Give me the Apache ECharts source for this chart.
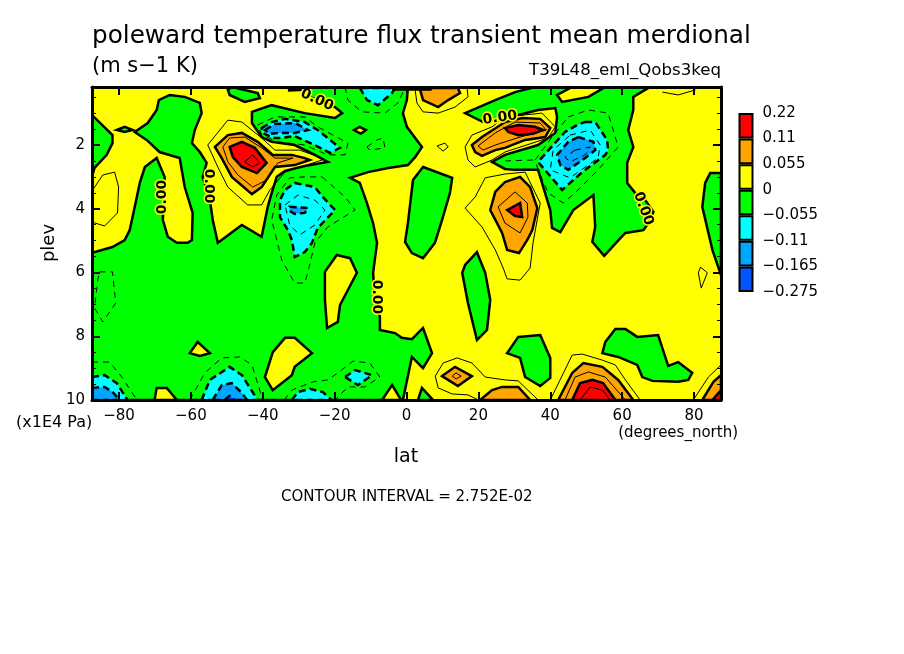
<!DOCTYPE html>
<html lang="en">
<head>
    <meta charset="UTF-8">
    <title>poleward temperature flux</title>
    <script src="https://cdn.jsdelivr.net/npm/echarts@6/dist/echarts.min.js"></script>
    <style>
        html, body { margin: 0; padding: 0; background: #fff; }
    </style>
</head>
<body>
<div id="main" style="width: 904px; height: 654px;"></div>
<script>
    // tick labels
    var latTicks = [-80, -60, -40, -20, 0, 20, 40, 60, 80];
    var plevTicks = [2, 4, 6, 8, 10];
    var plevMinorTicks = [0.5, 1, 1.5, 2.5, 3, 3.5, 4.5, 5, 5.5, 6.5, 7, 7.5, 8.5, 9, 9.5];

    // colour key, bottom to top
    var keyColours = ['#0055ff', '#00a5ff', '#00ffff', '#00ff00', '#ffff00', '#ffa500', '#ff0000'];
    var keyLabels = ['-0.275', '-0.165', '-0.11', '-0.055', '0', '0.055', '0.11', '0.22'];

    // filled contour areas, every vertex is [lat, plev]
    var greenAreas = [
        [[-87.5,5.38],[-81.8,5.2],[-78.4,4.98],[-77,4.67],[-75.6,3.94],[-74.2,3.19],[-72.8,2.69],[-69.5,2.41],[-67.3,3],[-67.8,4.35],[-66.4,4.88],[-63.9,5.07],[-60.9,5.07],[-59.7,4.98],[-59.5,4.13],[-61.7,3.32],[-63.1,2.41],[-68.7,2.22],[-72.3,1.84],[-75.6,1.59],[-72,1.31],[-69.5,0.9],[-68.9,0.59],[-65.9,0.43],[-61.7,0.49],[-57.5,0.68],[-57,1],[-58.9,1.53],[-59.7,1.94],[-57.5,2.22],[-55.6,2.56],[-56.7,3],[-54.7,3.73],[-53.9,4.35],[-52.5,5.07],[-45.8,4.51],[-40.3,4.88],[-38.6,3.94],[-37.5,3.5],[-36.1,3],[-33.8,2.81],[-28.3,2.66],[-21.9,2.53],[-25.5,2.31],[-31.1,2],[-37.5,1.9],[-40.3,1.75],[-43,1.31],[-43,0.96],[-37.5,0.75],[-28.3,1],[-19.9,1.15],[-17.9,1],[-19.9,0.81],[-24.7,0.59],[-28.3,0.43],[-29.7,0.18],[0.4,0.18],[0.1,0.59],[-1,1],[0.1,1.43],[4.3,2.06],[2.4,2.38],[0.4,2.63],[-5.1,2.72],[-10.7,2.85],[-15.7,3.03],[-13,3.19],[-11,3.82],[-9.3,4.45],[-8.2,5.07],[-9.3,6.01],[-8.8,6.7],[-7.4,7.39],[-7.4,7.8],[-3.2,7.9],[-1.3,8.05],[1.5,8.09],[4.6,7.74],[7.1,8.53],[4.6,9],[1.5,8.65],[-1,10],[-87.5,10]],
        [[16.3,1],[24.7,0.59],[30.2,0.34],[35.8,0.18],[67.8,0.18],[66.4,0.27],[63.1,0.49],[63.1,0.9],[61.7,1.53],[63.1,2.06],[61.4,2.56],[61.4,3.19],[63.6,3.5],[66.4,3.73],[68.7,4.1],[67.3,4.45],[65.9,4.67],[60.9,4.76],[59.5,4.92],[55,5.48],[51.7,5.04],[52.5,4.57],[52,3.57],[46.4,4.04],[42.8,4.73],[40.5,4.6],[40,4.04],[37.7,3.19],[36.6,2.78],[30.2,2.78],[27.4,2.75],[23.8,2.53],[27.4,2.31],[36.6,2],[41.4,1.62],[41.9,1.12],[41.4,0.84],[36.6,0.9],[31.1,1.06],[27.4,1.15],[21.3,1.28]],
        [[-87.5,1.06],[-81.8,1.69],[-81.8,1.94],[-83.4,2.31],[-86.8,2.72],[-87.5,3]],
        [[-80.6,1.53],[-78.4,1.43],[-76.2,1.53],[-78.4,1.59]],
        [[-49.7,0.27],[-49.2,0.43],[-45,0.65],[-40.8,0.53],[-41.4,0.37],[-48.6,0.18]],
        [[4.6,2.69],[12.7,3.03],[12.1,3.5],[9.9,4.35],[7.9,5.07],[4.6,5.55],[1.5,5.39],[-0.4,5.04],[0.4,4.45],[1.8,3.1]],
        [[19.6,5.36],[21.9,6.01],[23.3,6.86],[22.4,7.8],[19.6,8.12],[17.1,6.96],[15.5,6.01],[16.3,5.76]],
        [[31.1,8.02],[37.2,7.96],[40,8.68],[40,9.31],[37.2,9.56],[33,9.28],[31.6,8.68],[28,8.53]],
        [[58.1,7.77],[60.9,7.77],[64.2,8.02],[70,7.96],[72.8,8.93],[75.6,8.81],[79.5,9.15],[78.4,9.37],[75.6,9.43],[68.4,9.4],[65.6,9.28],[64.2,8.9],[58.9,8.65],[54.5,8.53],[55.3,8.18]],
        [[87.5,2.88],[84.5,2.88],[83.1,3.19],[82.3,3.94],[84,4.76],[85.1,5.29],[87.5,6.08]],
        [[3.2,10],[4.3,9.62],[7.4,10]]
    ];
    var yellowIslands = [
        [[41.9,0.43],[43.3,0.65],[50.6,0.49],[55.3,0.18],[46.1,0.18]],
        [[-19.4,5.45],[-15.7,5.55],[-13.8,6.01],[-18.5,7.02],[-19.1,7.55],[-22.1,7.74],[-22.7,6.86],[-22.7,5.98]],
        [[-6.8,10],[-4,9.53],[-1.5,10]],
        [[-70.1,10],[-69.5,9.62],[-66.7,9.62],[-63.9,10]],
        [[-60.3,8.53],[-58.1,8.18],[-54.7,8.53],[-57.5,8.62]],
        [[-33.8,8.05],[-31.1,8.05],[-26.3,8.53],[-31.1,8.96],[-31.9,9.22],[-37.2,9.69],[-39.4,9.28],[-37.2,8.5]],
        [[-14.6,1.53],[-13,1.43],[-11.3,1.53],[-12.7,1.65]]
    ];
    var orangeAreas = [
        [[-53.3,2.06],[-49.7,1.69],[-45.8,1.62],[-41.4,1.9],[-37.2,2.31],[-31.9,2.31],[-28.3,2.41],[-26.9,2.47],[-31.1,2.63],[-33.8,2.66],[-36.6,2.69],[-40.3,3.32],[-43,3.54],[-48.6,3],[-51.4,2.41]],
        [[18.2,2],[21,1.75],[27.4,1.28],[32.2,1.15],[37.2,1.18],[40,1.47],[38.6,1.75],[33,1.84],[27.4,2.09],[24.7,2.16],[21,2.34],[19.1,2.22]],
        [[24.7,3.47],[27.4,3.16],[31.6,3],[34.4,3.32],[36.4,3.98],[35,4.67],[33.6,4.98],[31.3,5.39],[28,5.29],[26.6,4.76],[23.3,4.04]],
        [[9.9,9.25],[13.5,8.96],[18.2,9.25],[14.3,9.56]],
        [[3.8,0.27],[4.6,0.59],[8.8,0.81],[11.6,0.59],[14.9,0.37],[14.3,0.21],[3.8,0.21]],
        [[42.2,10],[46.1,9.15],[49.2,8.84],[54.5,8.96],[58.9,9.37],[63.1,10]],
        [[20.5,10],[23.8,9.69],[26.6,9.59],[31.1,9.59],[34.4,10]],
        [[82.3,10],[85.4,9.43],[87.5,9.22],[87.5,10]]
    ];
    var redAreas = [
        [[-49.2,2.06],[-45.8,1.9],[-42.2,2.09],[-38.9,2.56],[-41.6,2.88],[-45.8,2.69],[-48.3,2.38]],
        [[27.4,1.47],[31.1,1.37],[35.8,1.43],[38,1.53],[35.2,1.65],[31.1,1.69],[28.3,1.59]],
        [[28,4.04],[31.6,3.82],[32.2,4.26],[30.2,4.23]],
        [[46.1,10],[48.3,9.47],[51.7,9.37],[54.7,9.47],[58.1,10]],
        [[85.1,10],[87.5,9.69],[87.5,10]]
    ];
    var cyanAreas = [
        [[-40.3,1.47],[-37.5,1.28],[-33.8,1.18],[-28.3,1.28],[-24.7,1.53],[-21.3,1.84],[-18.5,2.09],[-21.3,2.25],[-25.5,2],[-31.1,1.72],[-34.7,1.78],[-37.2,1.78],[-40,1.62]],
        [[-31.1,3.19],[-25.5,3.32],[-23.3,3.63],[-19.9,4.04],[-24.7,4.6],[-26.3,5.07],[-28.3,5.36],[-31.1,5.51],[-31.9,4.98],[-33,4.67],[-35.2,4.26],[-35.2,3.73],[-33.8,3.41]],
        [[49.7,1.28],[52.5,1.28],[55.8,1.84],[56.1,2.16],[55.3,2.31],[48.9,2.85],[43.3,3.41],[36.6,2.53],[40.8,2],[44.1,1.59],[47.5,1.37]],
        [[-87.5,9.28],[-84,9.22],[-80.6,9.47],[-77.6,10],[-87.5,10]],
        [[-57,10],[-54.7,9.37],[-49.2,8.96],[-45.8,9.22],[-41.4,10]],
        [[-31.9,10],[-30.2,9.75],[-26.9,9.65],[-23.3,9.75],[-20.8,10]],
        [[-17.1,9.28],[-14.3,9.06],[-9.6,9.22],[-13.5,9.53]],
        [[-13,0.21],[-11,0.59],[-7.9,0.75],[-4,0.37],[-3.2,0.21]]
    ];
    var blueAreas = [
        [[-39.4,1.53],[-36.6,1.34],[-31.1,1.31],[-27.4,1.53],[-31.1,1.62],[-35.2,1.62],[-38,1.65]],
        [[-32.5,3.94],[-27.4,3.98],[-28.3,4.13],[-31.1,4.16],[-32.5,4.07]],
        [[47.8,1.75],[52,1.9],[52.5,2.16],[49.7,2.41],[45,2.78],[42.8,2.63],[41.9,2.31],[45,1.9]],
        [[-87.5,9.62],[-84,9.59],[-81.8,9.75],[-79.8,10],[-87.5,10]],
        [[-53.9,10],[-51.4,9.53],[-48.6,9.47],[-45.8,9.78],[-44.4,10]]
    ];
    var deepBlueAreas = [
        [[-50.6,10],[-49.2,9.87],[-47.8,10]]
    ];

    // contours between the coloured bands
    var solidLines = [
        [[-87.5,4.42],[-84,4.54],[-80.4,4.13],[-80.1,3.32],[-81.2,2.85],[-84.5,2.94],[-87.3,3.41],[-87.5,3.73]],
        [[-55.3,2],[-49.7,1.22],[-45.8,1.28],[-40.3,1.78],[-36.6,2.16],[-29.7,2.16],[-23.5,2.41],[-23.5,2.47],[-33.8,2.85],[-38,3.41],[-40.3,3.88],[-44.2,3.88],[-49.7,3.32],[-52.5,2.69],[-55.3,2]],
        [[-51.1,2.06],[-49.2,1.78],[-45,1.75],[-40.3,2.09],[-36.6,2.41],[-31.6,2.41],[-35.8,2.56],[-38.9,3.1],[-42.8,3.32],[-46.9,2.94],[-49.7,2.53],[-51.1,2.06]],
        [[-45,2.53],[-42.8,2.31],[-40.8,2.56],[-42.8,2.69],[-45,2.53]],
        [[2.4,0.27],[2.9,0.68],[4.6,0.96],[8.8,1],[13.5,0.81],[17.1,0.49],[16.9,0.24]],
        [[8.5,2.03],[10.7,1.94],[11.6,2.06],[10.2,2.19],[8.5,2.03]],
        [[16.3,2.06],[18.2,1.69],[23.8,1.43],[27.4,1.12],[37.7,1],[41.4,1.43],[39.4,1.78],[27.4,2.22],[23.8,2.47],[19.1,2.69],[17.1,2.47],[16.3,2.06]],
        [[19.9,2.03],[24.7,1.62],[30.2,1.28],[37.2,1.31],[38.9,1.53],[31.6,1.75],[24.7,2],[21.3,2.16],[19.9,2.03]],
        [[16.3,3.98],[19.1,3.63],[21.9,3.03],[27.4,2.91],[33,2.85],[37.2,3.82],[35.2,5.07],[34.4,5.86],[31.6,6.24],[28,6.2],[26.9,5.86],[24.7,5.29],[21,4.57],[16.3,3.98]],
        [[30.2,3.47],[33.6,3.82],[33.8,4.26],[31.6,4.76],[27.4,4.45],[25.5,3.94],[30.2,3.47]],
        [[20,10],[17.1,9.84],[12.7,9.81],[8.8,9.62],[8,9.25],[10.2,8.84],[14.1,8.68],[18.2,8.84],[21.9,9.28],[27.4,9.37],[31.1,9.4],[36.6,10]],
        [[12.7,9.25],[13.8,9.15],[15.2,9.25],[13.8,9.34],[12.7,9.25]],
        [[40,10],[46.1,8.59],[48.9,8.56],[54.5,8.75],[58.1,8.9],[60.9,9.37],[65,10]],
        [[44.1,10],[46.9,9.28],[50.6,9.12],[55.3,9.28],[60.9,10]],
        [[48.3,10],[51.1,9.59],[54.5,9.69],[56.7,10]],
        [[79.8,10],[84,9.28],[87.5,8.9]],
        [[81.8,5.83],[83.7,6.01],[82,6.49],[81.2,6.01],[81.8,5.83]],
        [[71.2,0.34],[75.6,0.43],[80.4,0.27]]
    ];
    var dashedLines = [
        [[-23.5,3],[-17.1,3.63],[-14.3,4.04],[-21.9,4.57],[-25.5,5.07],[-27.4,5.98],[-28.3,6.33],[-31.1,6.33],[-34.7,5.61],[-36.1,4.98],[-37.5,4.35],[-36.1,3.57],[-32.5,3.03],[-28.3,3],[-23.5,3]],
        [[-85.4,5.98],[-81.8,5.98],[-80.9,6.96],[-84.5,7.55],[-86.8,7.11],[-85.9,6.24],[-85.4,5.98]],
        [[-87.5,8.81],[-82.6,8.81],[-79.2,9.28],[-75,10]],
        [[-60.3,10],[-56.1,9.15],[-51.4,8.68],[-46.4,8.65],[-43,8.9],[-40,10]],
        [[-34,10],[-31.9,9.69],[-26,9.43],[-21.9,9.37],[-19.1,9.15],[-14.9,8.78],[-10.2,8.84],[-7.4,9.28],[-11.6,9.59],[-16.3,9.59],[-19.9,10]],
        [[45,1.12],[50.6,0.9],[56.1,1],[58.9,2.06],[53.3,2.78],[46.9,3.5],[43.6,3.82],[39.4,3.5],[36.6,2.78],[35.8,2.47],[40.5,1.75],[45,1.12]],
        [[-17.1,0.18],[-16.3,0.59],[-12.4,0.96],[-6,1],[-2.4,0.68],[-0.4,0.21]],
        [[-11,2.06],[-8.2,1.84],[-6.5,1.78],[-6,2.09],[-10.2,2.16],[-11,2.06]],
        [[-41.4,1.37],[-36.6,1.12],[-28.3,1.12],[-24.7,1.43],[-16.3,1.94],[-17.1,2.31],[-21.9,2.31],[-28.3,2],[-35.8,1.9],[-40.3,1.69],[-41.4,1.37]],
        [[-33.8,3.88],[-30.2,3.57],[-25.5,3.73],[-22.7,4.04],[-25.5,4.51],[-29.7,4.82],[-32.5,4.51],[-33.8,3.88]],
        [[45.5,1.69],[51.1,1.53],[53.9,2],[53.3,2.41],[45.5,3.03],[40,2.78],[40.8,2.16],[45.5,1.69]],
        [[46.9,2.16],[51.1,2.06],[49.7,2.31],[45.5,2.53],[44.1,2.38],[46.9,2.16]],
        [[27.4,2.5],[35.2,2.47]]
    ];
    var heavyLines = [
        [[-33,0.28],[-28,0.26]],
        [[-4,0.25],[7,0.25]]
    ];

    // contour labels: lat, plev, angle in degrees
    var zeroLabels = [
        [-67.8, 3.63, 90],
        [-55, 3.29, -90],
        [-8.2, 6.77, -90],
        [-24.9, 0.59, -25],
        [26, 1.15, 8],
        [65.9, 4, -70]
    ];

    var myChart = echarts.init(document.getElementById('main'), null, {renderer: 'canvas'});

    function areaSeries(areas, colour, dashed, z) {
        return {
            type: 'custom',
            coordinateSystem: 'cartesian2d',
            clip: true,
            silent: true,
            z: z,
            data: areas.map(function (a, i) { return [i]; }),
            renderItem: function (params, api) {
                var pts = areas[api.value(0)].map(function (p) { return api.coord(p); });
                return {
                    type: 'polygon',
                    shape: {points: pts},
                    style: {fill: colour, stroke: '#000', lineWidth: 2.5, lineDash: dashed ? [7, 4] : null}
                };
            }
        };
    }

    function lineSeries(lines, dash, width, z) {
        return {
            type: 'custom',
            coordinateSystem: 'cartesian2d',
            clip: true,
            silent: true,
            z: z,
            data: lines.map(function (a, i) { return [i]; }),
            renderItem: function (params, api) {
                var pts = lines[api.value(0)].map(function (p) { return api.coord(p); });
                return {
                    type: 'polyline',
                    shape: {points: pts},
                    style: {fill: null, stroke: '#000', lineWidth: width, lineDash: dash}
                };
            }
        };
    }

    var series = [
        areaSeries(greenAreas, '#00ff00', false, 2),
        areaSeries(yellowIslands, '#ffff00', false, 3),
        areaSeries(orangeAreas, '#ffa500', false, 3),
        areaSeries(redAreas, '#ff0000', false, 4),
        areaSeries(cyanAreas, '#00ffff', true, 3),
        areaSeries(blueAreas, '#00a5ff', true, 4),
        areaSeries(deepBlueAreas, '#0055ff', true, 5),
        lineSeries(solidLines, null, 1, 6),
        lineSeries(dashedLines, [6, 5], 1, 6),
        lineSeries(heavyLines, null, 3, 6),
        {
            type: 'custom',
            coordinateSystem: 'cartesian2d',
            silent: true,
            z: 7,
            data: zeroLabels,
            renderItem: function (params, api) {
                var pt = api.coord([api.value(0), api.value(1)]);
                return {
                    type: 'text',
                    x: pt[0],
                    y: pt[1],
                    rotation: api.value(2) * Math.PI / 180,
                    style: {
                        text: '0.00',
                        font: 'bold 14px "DejaVu Sans"',
                        fill: '#000',
                        stroke: '#ffff00',
                        lineWidth: 3,
                        strokeFirst: true,
                        align: 'center',
                        verticalAlign: 'middle'
                    }
                };
            }
        }
    ];

    // colour key, stacked bars on its own small grid
    keyColours.forEach(function (c) {
        series.push({
            type: 'bar',
            xAxisIndex: 2,
            yAxisIndex: 4,
            stack: 'key',
            barWidth: '100%',
            silent: true,
            data: [1],
            itemStyle: {color: c, borderColor: '#000', borderWidth: 2}
        });
    });

    var axisLine = {show: true, onZero: false, lineStyle: {color: '#000', width: 3}};
    var labelFont = {color: '#000', fontFamily: 'DejaVu Sans', fontSize: 15};

    function minus(v) { return String(v).replace('-', '\u2212'); }

    function textItem(text, x, y, size, align, rotation) {
        return {
            type: 'text',
            x: x,
            y: y,
            rotation: rotation || 0,
            silent: true,
            style: {
                text: text,
                font: size + 'px "DejaVu Sans"',
                fill: '#000',
                align: align || 'left',
                verticalAlign: 'middle'
            }
        };
    }

    myChart.setOption({
        animation: false,
        backgroundColor: '#ffffff',
        grid: [
            {left: 92, right: 183, top: 87, bottom: 254, backgroundColor: '#ffff00', show: true, borderWidth: 0},
            {left: 738.5, width: 15, top: 113, height: 179}
        ],
        xAxis: [
            {
                type: 'value', gridIndex: 0, position: 'bottom', min: -87.5, max: 87.5, z: 10,
                splitLine: {show: false},
                axisLine: axisLine,
                axisTick: {inside: true, length: 8, lineStyle: {color: '#000', width: 2}, customValues: latTicks},
                axisLabel: Object.assign({margin: 9, customValues: latTicks, formatter: minus}, labelFont)
            },
            {
                type: 'value', gridIndex: 0, position: 'top', min: -87.5, max: 87.5, z: 10,
                splitLine: {show: false},
                axisLine: axisLine,
                axisTick: {inside: true, length: 8, lineStyle: {color: '#000', width: 2}, customValues: latTicks},
                axisLabel: {show: false}
            },
            {
                type: 'category', gridIndex: 1, data: ['key'],
                axisLine: {show: false}, axisTick: {show: false}, axisLabel: {show: false}
            }
        ],
        yAxis: [
            {
                type: 'value', gridIndex: 0, position: 'left', inverse: true, min: 0.18, max: 10, z: 10,
                splitLine: {show: false},
                axisLine: axisLine,
                axisTick: {inside: true, length: 8, lineStyle: {color: '#000', width: 2}, customValues: plevTicks},
                axisLabel: Object.assign({margin: 7, customValues: plevTicks}, labelFont)
            },
            {
                type: 'value', gridIndex: 0, position: 'left', inverse: true, min: 0.18, max: 10, z: 10,
                splitLine: {show: false},
                axisLine: {show: false, onZero: false},
                axisTick: {inside: true, length: 4, lineStyle: {color: '#000', width: 1}, customValues: plevMinorTicks},
                axisLabel: {show: false}
            },
            {
                type: 'value', gridIndex: 0, position: 'right', inverse: true, min: 0.18, max: 10, z: 10,
                splitLine: {show: false},
                axisLine: axisLine,
                axisTick: {inside: true, length: 8, lineStyle: {color: '#000', width: 2}, customValues: plevTicks},
                axisLabel: {show: false}
            },
            {
                type: 'value', gridIndex: 0, position: 'right', inverse: true, min: 0.18, max: 10, z: 10,
                splitLine: {show: false},
                axisLine: {show: false, onZero: false},
                axisTick: {inside: true, length: 4, lineStyle: {color: '#000', width: 1}, customValues: plevMinorTicks},
                axisLabel: {show: false}
            },
            {
                type: 'value', gridIndex: 1, position: 'right', min: 0, max: 7, interval: 1,
                splitLine: {show: false},
                axisLine: {show: false, onZero: false},
                axisTick: {show: false},
                axisLabel: Object.assign({
                    margin: 9,
                    formatter: function (v) { return minus(keyLabels[v]); }
                }, labelFont)
            }
        ],
        series: series,
        graphic: {
            elements: [
                textItem('poleward temperature flux transient mean merdional', 92, 37, 24.7),
                textItem('(m s\u22121 K)', 92, 67, 21),
                textItem('T39L48_eml_Qobs3keq', 721, 71, 16.6, 'right'),
                textItem('plev', 49, 243, 18, 'center', Math.PI / 2),
                textItem('lat', 406, 457, 19, 'center'),
                textItem('(x1E4 Pa)', 16, 423, 16),
                textItem('(degrees_north)', 738, 433, 15, 'right'),
                textItem('CONTOUR INTERVAL = 2.752E-02', 281, 497, 15)
            ]
        }
    });
</script>
</body>
</html>
